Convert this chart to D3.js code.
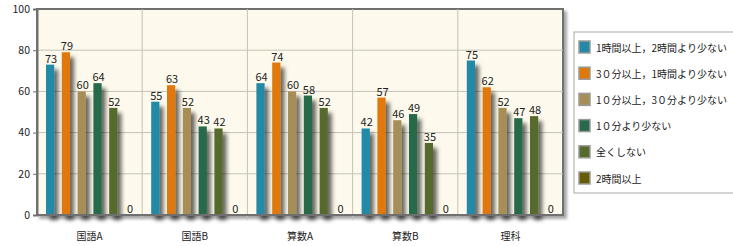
<!DOCTYPE html>
<html>
<head>
<meta charset="utf-8">
<script src="https://cdn.jsdelivr.net/npm/d3@7"></script>
<style>
  body { margin: 0; background: #fff; }
  svg { display: block; font-family: "Noto Sans CJK JP", sans-serif; }
</style>
</head>
<body>
<div id="chart"></div>
<script>
// categories and series
var categories = ['国語A', '国語B', '算数A', '算数B', '理科'];
var seriesNames = [
  '1時間以上，2時間より少ない',
  '3０分以上，1時間より少ない',
  '1０分以上，3０分より少ない',
  '1０分より少ない',
  '全くしない',
  '2時間以上'
];
var s1 = [73, 55, 64, 42, 75];
var s2 = [79, 63, 74, 57, 62];
var s3 = [60, 52, 60, 46, 52];
var s4 = [64, 43, 58, 49, 47];
var s5 = [52, 42, 52, 35, 48];
var s6 = [0, 0, 0, 0, 0];
var yTicks = [0, 20, 40, 60, 80, 100];

var seriesValues = [s1, s2, s3, s4, s5, s6];
var colors = ['#2389a6', '#e07808', '#a68e56', '#286a4a', '#576b2d', '#675c06'];

var W = 733, H = 246;
var margin = {top: 9, right: 170, bottom: 31, left: 37};
var width = W - margin.left - margin.right;
var height = H - margin.top - margin.bottom;

var svg = d3.select('#chart').append('svg')
  .attr('width', W)
  .attr('height', H);

var defs = svg.append('defs');
var f = defs.append('filter').attr('id', 'barShadow')
  .attr('x', '-50%').attr('y', '-10%').attr('width', '250%').attr('height', '130%');
f.append('feDropShadow').attr('dx', 4).attr('dy', 5).attr('stdDeviation', 2)
  .attr('flood-color', '#000').attr('flood-opacity', 0.6);

var f2 = defs.append('filter').attr('id', 'frameShadow')
  .attr('x', '-5%').attr('y', '-5%').attr('width', '115%').attr('height', '115%');
f2.append('feDropShadow').attr('dx', 3).attr('dy', 3).attr('stdDeviation', 1.5)
  .attr('flood-color', '#000').attr('flood-opacity', 0.35);

var g = svg.append('g')
  .attr('transform', 'translate(' + margin.left + ',' + margin.top + ')');

var x0 = d3.scaleBand().domain(categories).range([0, width]).paddingInner(0).paddingOuter(0);
var x1 = d3.scaleBand().domain(d3.range(seriesNames.length))
  .range([9, x0.bandwidth() - 9]).paddingInner(0.48).paddingOuter(0);
var y = d3.scaleLinear().domain([0, 100]).range([height, 0]);

// plot background with frame
g.append('rect')
  .attr('width', width).attr('height', height)
  .attr('fill', '#fdfaed')
  .attr('stroke', '#707070').attr('stroke-width', 2)
  .attr('filter', 'url(#frameShadow)');

// horizontal grid
g.append('g').selectAll('line').data(yTicks.slice(1, -1)).join('line')
  .attr('x1', 0).attr('x2', width)
  .attr('y1', function (d) { return y(d); }).attr('y2', function (d) { return y(d); })
  .attr('stroke', '#c4c2b6').attr('stroke-width', 1);

// vertical category dividers
g.append('g').selectAll('line').data(categories.slice(1)).join('line')
  .attr('x1', function (d) { return x0(d); }).attr('x2', function (d) { return x0(d); })
  .attr('y1', 0).attr('y2', height + 5)
  .attr('stroke', '#c4c2b6').attr('stroke-width', 1);

// bars
var groups = g.append('g').selectAll('g').data(categories).join('g')
  .attr('transform', function (d) { return 'translate(' + x0(d) + ',0)'; });

groups.each(function (cat, ci) {
  var grp = d3.select(this);
  var data = seriesValues.map(function (vals, si) { return {si: si, v: vals[ci]}; });
  grp.selectAll('rect').data(data.filter(function (d) { return d.v > 0; })).join('rect')
    .attr('x', function (d) { return x1(d.si); })
    .attr('y', function (d) { return y(d.v); })
    .attr('width', x1.bandwidth())
    .attr('height', function (d) { return height - y(d.v); })
    .attr('fill', function (d) { return colors[d.si]; })
    .attr('filter', 'url(#barShadow)');
  grp.selectAll('text').data(data).join('text')
    .attr('x', function (d) { return x1(d.si) + x1.bandwidth() / 2 + 1; })
    .attr('y', function (d) { return y(d.v) - 2; })
    .attr('text-anchor', 'middle')
    .attr('font-size', 11)
    .attr('fill', '#222')
    .text(function (d) { return d.v; });
});

// axes
var yAxis = d3.axisLeft(y).tickValues(yTicks).tickSize(4).tickPadding(3);
var ya = g.append('g').call(yAxis);
ya.select('.domain').attr('stroke', '#707070').attr('stroke-width', 2);
ya.selectAll('.tick line').attr('stroke', '#707070');
ya.selectAll('text').attr('font-size', 10.5).attr('fill', '#222').attr('font-family', '"Noto Sans CJK JP", sans-serif');

var xAxis = d3.axisBottom(x0).tickSize(0).tickPadding(18);
var xa = g.append('g').attr('transform', 'translate(0,' + height + ')').call(xAxis);
xa.select('.domain').remove();
xa.selectAll('text').attr('font-size', 10).attr('fill', '#222').attr('font-family', '"Noto Sans CJK JP", sans-serif');

// bottom axis line
g.append('line').attr('x1', 0).attr('x2', width).attr('y1', height).attr('y2', height)
  .attr('stroke', '#707070').attr('stroke-width', 2);

// legend
var lg = svg.append('g').attr('transform', 'translate(574,32)');
lg.append('rect').attr('width', 170).attr('height', 161)
  .attr('fill', '#fff').attr('stroke', '#a8a8a8');
var items = lg.selectAll('g').data(seriesNames).join('g')
  .attr('transform', function (d, i) { return 'translate(5,' + (9 + i * 26.2) + ')'; });
items.append('rect').attr('width', 11).attr('height', 12)
  .attr('fill', function (d, i) { return colors[i]; })
  .attr('stroke', '#9a9a9a').attr('stroke-width', 1.5);
items.append('text').attr('x', 17).attr('y', 10.5)
  .attr('font-size', 10).attr('fill', '#222')
  .text(function (d) { return d; });
</script>
</body>
</html>
